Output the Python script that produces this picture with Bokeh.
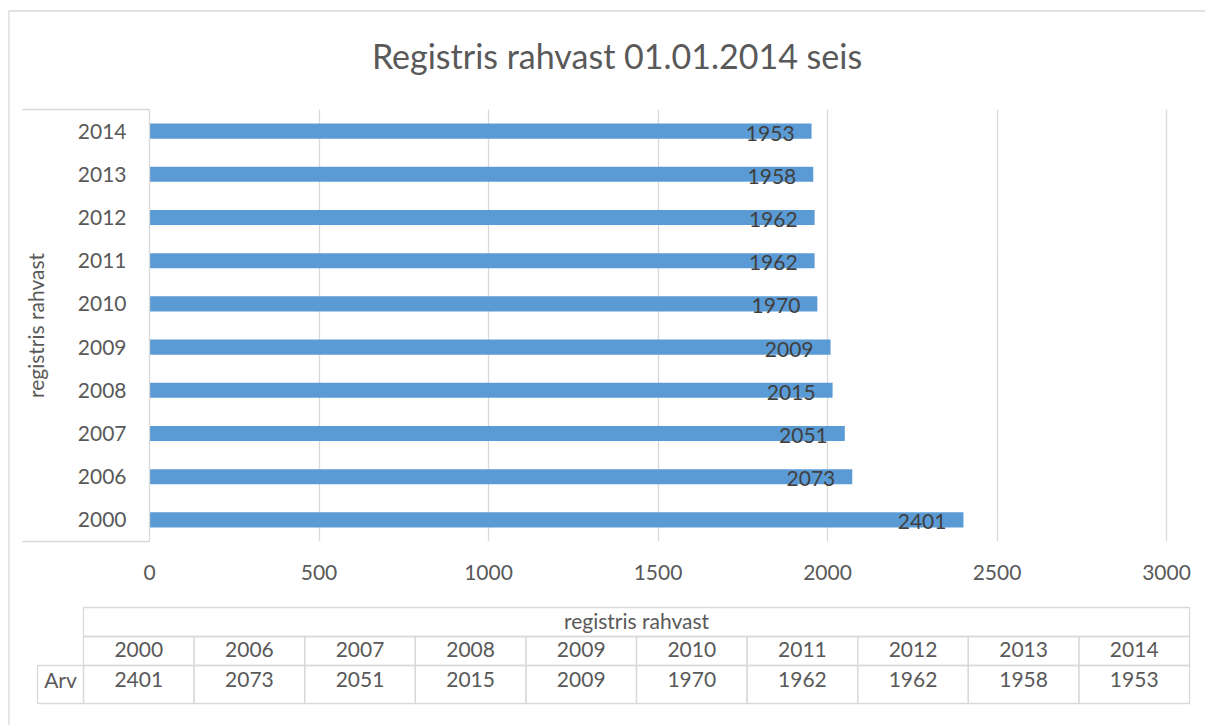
from bokeh.plotting import figure
from bokeh.models import Range1d, FixedTicker, ColumnDataSource
from bokeh.embed import file_html
from bokeh.resources import INLINE
from bokeh.core.properties import value

# ---------------- data ----------------
title_text = "Registris rahvast 01.01.2014 seis"
series_name = "registris rahvast"
row_label = "Arv"
years = ["2000", "2006", "2007", "2008", "2009", "2010", "2011", "2012", "2013", "2014"]
counts = [2401, 2073, 2051, 2015, 2009, 1970, 1962, 1962, 1958, 1953]
x_ticks = [0, 500, 1000, 1500, 2000, 2500, 3000]
x_max = 3000

# ---------------- layout / style ----------------
FONT = "Lato"
TXT = "#595959"
LBL = "#404040"
GRID = "#d9d9d9"
BAR = "#5B9BD5"
W, H = 1205, 725
FL, FT, FB = 149, 109, 541      # plot frame (page pixels)
X_AT_MAX = 1166                  # pixel of x_max
FR = 1168                        # frame right, slightly past x_max so its gridline shows
x_end = x_max * (FR - FL) / (X_AT_MAX - FL)

n = len(years)
pos = list(range(n))  # category slots, bottom to top

p = figure(width=W, height=H, output_backend="svg", toolbar_location=None,
           x_range=Range1d(0, x_end), y_range=Range1d(-0.5, n - 0.5),
           min_border_left=FL, min_border_right=W - FR,
           min_border_top=FT, min_border_bottom=H - FB)
p.outline_line_color = None
p.background_fill_color = "white"
p.border_fill_color = "white"

# page-pixel coordinate system for decorations outside the frame
p.extra_x_ranges = {"px": Range1d(FL, FR)}
p.extra_y_ranges = {"px": Range1d(FB, FT)}

src = ColumnDataSource(dict(pos=pos, count=counts, label=[str(c) for c in counts]))
p.hbar(y="pos", left=0, right="count", height=0.35, source=src,
       fill_color=BAR, line_color=None)
p.text(x="count", y="pos", text="label", source=src, text_align="right",
       text_baseline="middle", x_offset=-17, y_offset=2,
       text_font=value(FONT), text_font_size="21px", text_color=LBL)

# axes
p.xaxis.ticker = FixedTicker(ticks=x_ticks)
p.xgrid.ticker = FixedTicker(ticks=x_ticks)
p.xgrid.grid_line_color = GRID
p.xgrid.grid_line_width = 1.3
p.ygrid.grid_line_color = None
p.xaxis.axis_line_color = None
p.xaxis.major_tick_line_color = None
p.xaxis.minor_tick_line_color = None
p.xaxis.major_tick_out = 0
p.xaxis.major_tick_in = 0
p.xaxis.major_label_standoff = 23
p.xaxis.major_label_text_font = FONT
p.xaxis.major_label_text_font_size = "21px"
p.xaxis.major_label_text_color = TXT

p.yaxis.ticker = FixedTicker(ticks=pos)
p.yaxis.major_label_overrides = {i: y for i, y in zip(pos, years)}
p.yaxis.axis_line_color = GRID
p.yaxis.axis_line_width = 1.3
p.yaxis.major_tick_line_color = None
p.yaxis.minor_tick_line_color = None
p.yaxis.major_tick_out = 0
p.yaxis.major_tick_in = 0
p.yaxis.major_label_standoff = 23
p.yaxis.major_label_text_font = FONT
p.yaxis.major_label_text_font_size = "21px"
p.yaxis.major_label_text_color = TXT
p.yaxis.axis_label = series_name
p.yaxis.axis_label_text_font = FONT
p.yaxis.axis_label_text_font_size = "21px"
p.yaxis.axis_label_text_font_style = "normal"
p.yaxis.axis_label_text_color = TXT
p.yaxis.axis_label_standoff = 27

ov = dict(x_range_name="px", y_range_name="px", level="overlay")

# title
p.text(x=[616.5], y=[55], text=[title_text], text_align="center",
       text_baseline="middle", text_font=value(FONT), text_font_size="34px",
       text_color=TXT, **ov)

# chart border (left and top)
p.line(x=[8.5, 8.5], y=[H, 10.5], line_color=GRID, line_width=1.3, **ov)
p.line(x=[8, W], y=[10.5, 10.5], line_color=GRID, line_width=1.3, **ov)
# category-axis extension lines at top and bottom of the plot area
p.line(x=[22, FL], y=[FT, FT], line_color=GRID, line_width=1.3, **ov)
p.line(x=[22, FL], y=[FB, FB], line_color=GRID, line_width=1.3, **ov)

# data table
TL, TR = 83, 1189
ROW = [607, 636, 665, 703]
LAB_L = 37
cw = (TR - TL) / n
cl = [TL + i * cw for i in range(n)]
cr = [TL + (i + 1) * cw for i in range(n)]
cc = [TL + (i + 0.5) * cw for i in range(n)]
p.quad(left=[TL], right=[TR], top=[ROW[0]], bottom=[ROW[1]], fill_color=None,
       line_color=GRID, line_width=1.3, **ov)
p.quad(left=cl, right=cr, top=[ROW[1]] * n, bottom=[ROW[2]] * n, fill_color=None,
       line_color=GRID, line_width=1.3, **ov)
p.quad(left=cl, right=cr, top=[ROW[2]] * n, bottom=[ROW[3]] * n, fill_color=None,
       line_color=GRID, line_width=1.3, **ov)
p.quad(left=[LAB_L], right=[TL], top=[ROW[2]], bottom=[ROW[3]], fill_color=None,
       line_color=GRID, line_width=1.3, **ov)

tstyle = dict(text_align="center", text_baseline="middle", text_font=value(FONT),
              text_font_size="21px", text_color=TXT)
p.text(x=[(TL + TR) / 2], y=[620], text=[series_name], **tstyle, **ov)
p.text(x=cc, y=[648.5] * n, text=years, **tstyle, **ov)
p.text(x=cc, y=[678.5] * n, text=[str(c) for c in counts], **tstyle, **ov)
p.text(x=[(LAB_L + TL) / 2], y=[678.5], text=[row_label], **tstyle, **ov)

open("out.html", "w").write(file_html(p, INLINE))
